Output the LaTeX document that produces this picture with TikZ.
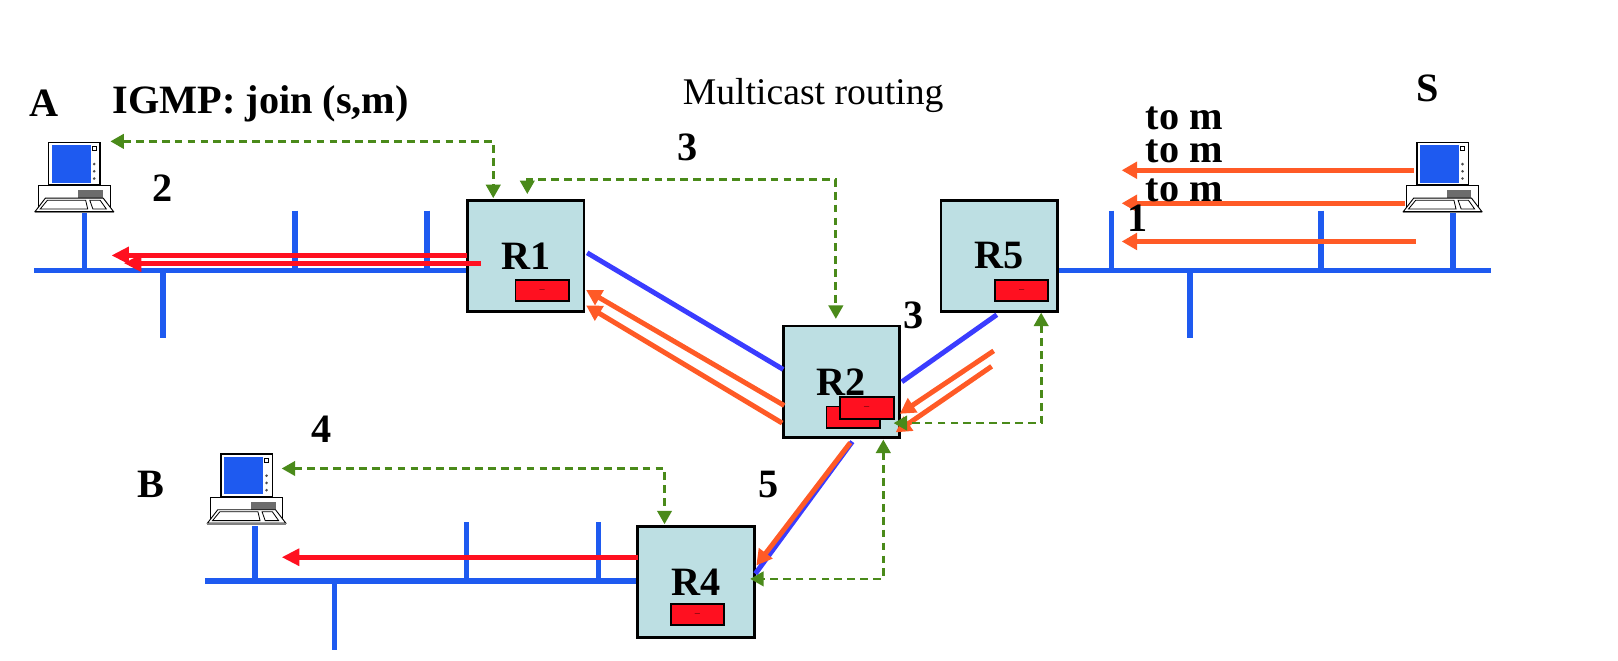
\documentclass[tikz,border=0pt]{standalone}
\usepackage{fontspec}
\setmainfont{Liberation Serif}
\usetikzlibrary{arrows.meta}
\definecolor{busblue}{HTML}{1E5AF0}
\definecolor{linkblue}{HTML}{3A3CFF}
\definecolor{flowred}{HTML}{FF1020}
\definecolor{floworange}{HTML}{FF5A26}
\definecolor{igmpgreen}{HTML}{4A8A1A}
\definecolor{routerfill}{HTML}{BDDFE3}
\tikzset{
  router/.style={draw=black,line width=2.6pt,fill=routerfill,minimum width=113pt,minimum height=108pt,inner sep=0pt,font=\fontsize{39}{39}\selectfont\bfseries},
  tablebox/.style={draw=black,line width=1.8pt,fill=flowred,minimum width=52pt,minimum height=21pt,inner sep=0pt,font=\fontsize{5}{5}\selectfont\bfseries},
  bus/.style={busblue,line width=5.4pt},
  bluelink/.style={linkblue,line width=4.8pt},
  orangeflow/.style={floworange,line width=4.8pt,-{Triangle[length=15pt,width=16pt]}},
  redflow/.style={flowred,line width=5pt,-{Triangle[length=17pt,width=16pt]}},
  igmp/.style={igmpgreen,line width=2.6pt,dash pattern=on 7.5pt off 5pt,{Triangle[length=13pt,width=14pt]}-{Triangle[length=13pt,width=14pt]}},
  lbl/.style={font=\fontsize{39}{39}\selectfont\bfseries,inner sep=0pt},
  computer/.pic={
    \draw[black,line width=.9pt,fill=white] (-10,42) rectangle (60,62);
    \fill[gray!85!black] (29,46) rectangle (53,54);
    \draw[black,line width=1.5pt,fill=white] (0,0) rectangle (50,41);
    \fill[busblue] (3,3) rectangle (41,39);
    \draw[black,line width=.8pt] (42.5,4) rectangle (46,8);
    \foreach \doty in {21,28,35} \fill[black!70] (44.3,\doty) circle (1.4pt);
    \draw[black,line width=.9pt,fill=white] (-3,54) -- (53,54) -- (63,67) -- (-13,67) -- cycle;
    \draw[black,line width=.8pt] (-1,56) -- (36,56) -- (38,64.5) -- (-8,64.5) -- cycle;
    \draw[black,line width=.8pt] (40,56) -- (50,56) -- (56,64.5) -- (43,64.5) -- cycle;
    \draw[gray,line width=1.4pt] (-13,68) -- (63,68);
  }
}
\begin{document}
\begin{tikzpicture}[x=1pt,y=-1pt]
\useasboundingbox (0,0) rectangle (1568,640);
% buses
\coordinate (busAl) at (33,262);
\coordinate (busAr) at (455,262);
\coordinate (busSl) at (1025,262);
\coordinate (busSr) at (1445,262);
\coordinate (busBl) at (199,563);
\coordinate (busBr) at (620,563);
\draw[bus] (busAl) -- (busAr);
\draw[bus] (busSl) -- (busSr);
\draw[bus] (busBl) -- (busBr);
\foreach \stubx/\stuba/\stubb in {82/205/262,286/204/262,414/204/262,158/262/328,1077/204/262,1280/204/262,1408/204/262,1153/262/328,247/510/563,452/506/563,580/506/563,324/563/630}
  \draw[bus] (\stubx,\stuba) -- (\stubx,\stubb);
% hosts
\coordinate (hostA) at (47,138);
\coordinate (hostS) at (1373,138);
\coordinate (hostB) at (214,440);
\pic at (hostA) {computer};
\pic at (hostS) {computer};
\pic at (hostB) {computer};
% routers
\node[router] (R1) at (509.5,248) {R1};
\node[router] (R5) at (968.5,248) {R5};
\node[router] (R2) at (815.5,370) {R2};
\node[router] (R4) at (674.5,564) {R4};
\node[tablebox] (tabR1) at (525.5,281.5) {---};
\node[tablebox] (tabR5) at (990,281.5) {---};
\node[tablebox] (tabR2a) at (827,404.5) {};
\node[tablebox] (tabR2b) at (840,395.5) {---};
\node[tablebox] (tabR4) at (676,595.5) {---};
% blue links
\coordinate (linkR1) at (569,245);
\coordinate (linkR2l) at (759,358);
\coordinate (linkR5) at (966,305);
\coordinate (linkR2r) at (874,370);
\coordinate (linkR2b) at (826,428);
\coordinate (linkR4) at (732,556);
\draw[bluelink] (linkR1) -- (linkR2l);
\draw[bluelink] (linkR5) -- (linkR2r);
\draw[bluelink] (linkR2b) -- (linkR4);
% orange flow
\coordinate (sa) at (1370,165);
\coordinate (sb) at (1362,197);
\coordinate (sc) at (1372,234);
\coordinate (ta) at (1087,165);
\coordinate (tb) at (1087,197);
\coordinate (tc) at (1087,234);
\draw[orangeflow] (sa) -- (ta);
\draw[orangeflow] (sb) -- (tb);
\draw[orangeflow] (sc) -- (tc);
\coordinate (ra) at (963,340);
\coordinate (rb) at (961,355);
\coordinate (qa) at (872,401);
\coordinate (qb) at (868,419);
\draw[orangeflow] (ra) -- (qa);
\draw[orangeflow] (rb) -- (qb);
\coordinate (pa) at (760,393);
\coordinate (pb) at (758,410);
\coordinate (oa) at (568,281);
\coordinate (ob) at (568,296);
\draw[orangeflow] (pa) -- (oa);
\draw[orangeflow] (pb) -- (ob);
\coordinate (na) at (824,429);
\coordinate (nb) at (733,548);
\draw[orangeflow] (na) -- (nb);
% red flow
\coordinate (fa) at (453,247.5);
\coordinate (fb) at (466,255);
\coordinate (ga) at (108,247.5);
\coordinate (gb) at (120,255);
\coordinate (fc) at (618,540);
\coordinate (gc) at (273,540);
\draw[redflow] (fa) -- (ga);
\draw[redflow] (fb) -- (gb);
\draw[redflow] (fc) -- (gc);
% igmp
\coordinate (joinA) at (107,137);
\coordinate (joinR1) at (478,192);
\coordinate (joinR1b) at (511,188);
\coordinate (joinR2) at (810,309);
\coordinate (joinR5) at (1009,303);
\coordinate (joinR2b) at (866,410);
\coordinate (joinB) at (273,454);
\coordinate (joinR4) at (644,508);
\coordinate (joinR2c) at (856,426);
\coordinate (joinR4b) at (727,561);
\draw[igmp] (joinA) -| (joinR1);
\draw[igmp] (joinR1b) |- (810,174) -- (joinR2);
\draw[igmp] (joinR5) |- (joinR2b);
\draw[igmp] (joinB) -| (joinR4);
\draw[igmp] (joinR2c) |- (joinR4b);
% labels
\node[lbl] (lA) at (43,100) {A};
\node[lbl] (lS) at (1384,86) {S};
\node[lbl] (lB) at (146,469) {B};
\node[lbl,anchor=west] (ligmp) at (109,101) {IGMP: join (s,m)};
\node[font=\fontsize{36.5}{37}\selectfont,inner sep=0pt] (ltitle) at (788,93) {Multicast routing};
\node[lbl,anchor=west] (tom1) at (1110,115) {to m};
\node[lbl,anchor=west] (tom2) at (1110,147) {to m};
\node[lbl,anchor=west] (tom3) at (1110,184) {to m};
\node[lbl] (n1) at (1102,211) {1};
\node[lbl] (n2) at (158,182) {2};
\node[lbl] (n3a) at (666,143) {3};
\node[lbl] (n3b) at (885,306) {3};
\node[lbl] (n4) at (312,416) {4};
\node[lbl] (n5) at (745,470) {5};
\end{tikzpicture}
\end{document}
